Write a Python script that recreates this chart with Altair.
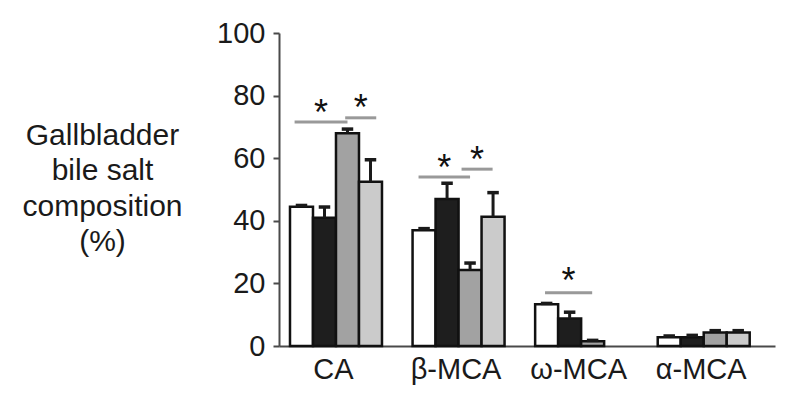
import altair as alt
import pandas as pd

# ---- data ----
GROUPS = ["CA", "β-MCA", "ω-MCA", "α-MCA"]
SERIES = ["S1", "S2", "S3", "S4"]
MEAN_S1 = [44.5, 37.0, 13.3, 2.8]
MEAN_S2 = [41.0, 47.0, 8.8, 2.8]
MEAN_S3 = [68.0, 24.3, 1.5, 4.3]
MEAN_S4 = [52.5, 41.3, 0.0, 4.3]
ERR_S1 = [0.4, 0.5, 0.3, 0.4]
ERR_S2 = [3.4, 5.0, 2.0, 0.6]
ERR_S3 = [1.3, 2.2, 0.3, 0.6]
ERR_S4 = [7.0, 7.7, 0.0, 0.6]

# significance brackets: group, start/end (in bar units inside the group), line level, star level
SIG_GROUP = [0, 0, 1, 1, 2]
SIG_START = [0.2, 2.4, 0.26, 2.13, 0.43]
SIG_END = [2.5, 3.75, 2.5, 3.48, 2.48]
SIG_LINE = [71.6, 72.9, 54.0, 56.5, 17.0]
SIG_STAR = [76.4, 78.0, 58.8, 61.3, 22.7]

Y_TICKS = [0, 20, 40, 60, 80, 100]
FILLS = ["#ffffff", "#1e1e1e", "#a2a2a2", "#cbcbcb"]

GROUP_STEP = 5.33  # distance between groups, in bar widths

means = [MEAN_S1, MEAN_S2, MEAN_S3, MEAN_S4]
errs = [ERR_S1, ERR_S2, ERR_S3, ERR_S4]
rows = []
for si, s in enumerate(SERIES):
    for gi, g in enumerate(GROUPS):
        rows.append({"group": g, "gi": gi, "si": si, "series": s,
                     "mean": means[si][gi], "err": errs[si][gi]})
df = pd.DataFrame(rows)

sig = pd.DataFrame({"gi": SIG_GROUP, "s0": SIG_START, "s1": SIG_END,
                    "line": SIG_LINE, "star": SIG_STAR})

FONT = "Liberation Sans"
xscale = alt.Scale(domain=[-0.478, 21.09], nice=False, zero=False)
yscale = alt.Scale(domain=[0, 100], nice=False)

label_list = "[" + ",".join("'" + g + "'" for g in GROUPS) + "]"
xaxis = alt.Axis(
    values=[round(i * GROUP_STEP + 1.87, 3) for i in range(len(GROUPS))],
    labelExpr=label_list + "[floor(datum.value/" + str(GROUP_STEP) + ")]",
    ticks=False, grid=False, title=None,
    labelFont=FONT, labelFontSize=29, labelColor="#1a1a1a", labelPadding=9,
    domainColor="#4a4a4a", domainWidth=2,
)
yaxis = alt.Axis(
    values=Y_TICKS, grid=False,
    title=["Gallbladder", "bile salt", "composition", "(%)"],
    titleAngle=0, titleAlign="center", titleBaseline="alphabetic",
    titleX=-177, titleY=111, titleLineHeight=35.5,
    titleFont=FONT, titleFontSize=30, titleFontWeight="normal", titleColor="#1a1a1a",
    labelFont=FONT, labelFontSize=29, labelColor="#1a1a1a", labelPadding=8,
    tickSize=6, tickWidth=2, tickColor="#4a4a4a",
    domainColor="#4a4a4a", domainWidth=2,
)

base = alt.Chart(df).transform_calculate(
    x0=f"datum.gi*{GROUP_STEP}+datum.si",
    x1=f"datum.gi*{GROUP_STEP}+datum.si+1",
    xc=f"datum.gi*{GROUP_STEP}+datum.si+0.5",
    cl=f"datum.gi*{GROUP_STEP}+datum.si+0.25",
    cr=f"datum.gi*{GROUP_STEP}+datum.si+0.75",
    top="datum.mean+datum.err",
)

bars = base.mark_bar(stroke="#111111", strokeWidth=2.5).encode(
    x=alt.X("x0:Q", scale=xscale, axis=xaxis),
    x2="x1:Q",
    y=alt.Y("mean:Q", scale=yscale, axis=yaxis),
    y2=alt.datum(0),
    fill=alt.Fill("series:N", scale=alt.Scale(domain=SERIES, range=FILLS), legend=None),
).transform_filter("datum.mean > 0")

stems = base.mark_rule(color="#1a1a1a", strokeWidth=3).encode(
    x=alt.X("xc:Q", scale=xscale),
    y=alt.Y("mean:Q", scale=yscale),
    y2="top:Q",
).transform_filter("datum.err > 0")

caps = base.mark_rule(color="#1a1a1a", strokeWidth=3.5).encode(
    x=alt.X("cl:Q", scale=xscale),
    x2="cr:Q",
    y=alt.Y("top:Q", scale=yscale),
).transform_filter("datum.err > 0")

sigbase = alt.Chart(sig).transform_calculate(
    a=f"datum.gi*{GROUP_STEP}+datum.s0",
    b=f"datum.gi*{GROUP_STEP}+datum.s1",
    m=f"datum.gi*{GROUP_STEP}+(datum.s0+datum.s1)/2",
)
siglines = sigbase.mark_rule(color="#999999", strokeWidth=3).encode(
    x=alt.X("a:Q", scale=xscale), x2="b:Q",
    y=alt.Y("line:Q", scale=yscale),
)
stars = sigbase.mark_text(text="*", font=FONT, fontSize=36, color="#111111",
                          baseline="middle", dy=7).encode(
    x=alt.X("m:Q", scale=xscale),
    y=alt.Y("star:Q", scale=yscale),
)

chart = alt.layer(bars, stems, caps, siglines, stars).properties(
    width=496, height=313,
    padding={"left": 271, "top": 25, "right": 10, "bottom": 50},
    autosize=alt.AutoSizeParams(type="none"),
).configure(background="white").configure_view(stroke=None)

chart.save("out.html", embed_options={"renderer": "svg", "actions": False})
